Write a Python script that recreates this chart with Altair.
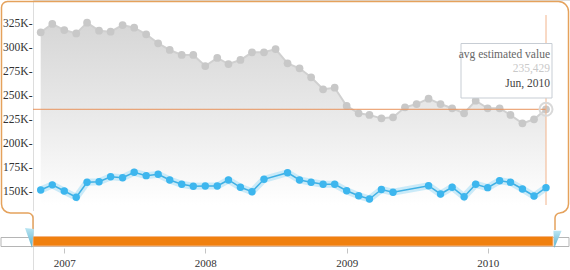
import altair as alt
import pandas as pd

# ---- data (values in thousands of dollars) ----
start_month = "2006-11-01"
n_months = 44
gray_k = [315.6, 324.3, 318.0, 314.4, 325.6, 317.3, 316.3, 323.2, 320.4, 313.5,
          304.2, 297.2, 292.0, 292.0, 280.5, 288.9, 282.6, 286.8, 294.8, 294.8,
          298.2, 283.3, 278.1, 268.8, 256.3, 257.9, 238.9, 231.3, 229.5, 226.0,
          227.1, 237.5, 240.9, 246.5, 240.9, 236.5, 231.3, 244.4, 236.5, 236.5,
          229.5, 220.8, 225.0, 235.429]
blue_k = [151.4, 156.7, 150.3, 143.8, 159.4, 160.0, 165.2, 164.2, 169.8, 166.3,
          167.7, 161.8, 157.3, 155.2, 155.5, 155.5, 161.8, 154.2, 149.6, 162.5,
          None, 169.4, 161.8, 159.4, 157.3, 157.3, 150.6, 145.4, 142.0, 151.9,
          149.0, None, None, 155.8, 147.2, 154.2, 144.4, 157.3, 153.8, 161.0,
          159.4, 152.4, 145.1, 153.8]
y_ticks = [150, 175, 200, 225, 250, 275, 300, 325]
year_ticks = [2007, 2008, 2009, 2010]
tip_label = "avg estimated value"
tip_date = "Jun, 2010"

months = pd.date_range(start_month, periods=n_months, freq="MS")
month_str = [d.strftime("%Y-%m-%dT00:00:00") for d in months]
gray_df = pd.DataFrame({"date": month_str, "v": gray_k})
blue_df = pd.DataFrame({"date": month_str, "v": blue_k}).dropna()
last_df = gray_df.tail(1)
one = pd.DataFrame({"a": [0]})

SERIF = "Liberation Serif"
ORANGE_FRAME = "#e5a25c"
Y_MIN, Y_MAX = 135.73, 340.94
X_LO, X_HI = pd.Timestamp("2006-11-01"), pd.Timestamp("2010-06-01")
R_LO, R_HI = 7.7, 513.0

# cursor guide lines (from the last data point to the axis / across the plot)
axis_left_date = X_LO - (X_HI - X_LO) * (R_LO / (R_HI - R_LO))
last_date = month_str[-1]
hguide = pd.DataFrame({"date": [axis_left_date.strftime("%Y-%m-%dT%H:%M:%S"), last_date],
                       "v": [gray_k[-1], gray_k[-1]]})
vguide = pd.DataFrame({"date": [last_date, last_date], "v": [333.6, Y_MIN]})

xscale = alt.Scale(domain=[alt.DateTime(year=2006, month=11, date=1),
                           alt.DateTime(year=2010, month=6, date=1)],
                   range=[R_LO, R_HI])
yscale = alt.Scale(domain=[Y_MIN, Y_MAX], range=[205, 8], nice=False, zero=False)

X = alt.X("date:T", scale=xscale,
          axis=alt.Axis(values=[alt.DateTime(year=y, month=1, date=1) for y in year_ticks],
                        format="%Y", title=None, domain=False, grid=False, zindex=2,
                        offset=-22, tickSize=5, tickColor="#c4c4c4", labelOverlap=False,
                        labelPadding=4, labelFont=SERIF, labelFontSize=11,
                        labelColor="#333333"))
Y = alt.Y("v:Q", scale=yscale,
          axis=alt.Axis(values=y_ticks, labelExpr="datum.value + 'K-'", title=None,
                        domain=False, grid=False, ticks=False, labelPadding=1, zindex=2,
                        labelOverlap=False, labelFont=SERIF, labelFontSize=11.5,
                        labelColor="#333333"))

# ---- frame decoration ----
frame = alt.Chart(one).mark_rect(
    fillOpacity=0, stroke=ORANGE_FRAME, strokeWidth=1.5,
    cornerRadiusTopLeft=6, cornerRadiusTopRight=10,
    cornerRadiusBottomLeft=9, cornerRadiusBottomRight=9
).encode(x=alt.value(-31.5), x2=alt.value(535.5), y=alt.value(1.5), y2=alt.value(213))
cover = alt.Chart(one).mark_rect(color="white").encode(
    x=alt.value(-5), x2=alt.value(527), y=alt.value(211), y2=alt.value(215.5))
arc_l = alt.Chart(one).mark_arc(theta=0, theta2=1.5708, innerRadius=4.25, outerRadius=5.75,
                                color=ORANGE_FRAME).encode(x=alt.value(-5), y=alt.value(218))
arc_r = alt.Chart(one).mark_arc(theta=4.7124, theta2=6.2832, innerRadius=4.25, outerRadius=5.75,
                                color=ORANGE_FRAME).encode(x=alt.value(527), y=alt.value(218))
desc_l = alt.Chart(one).mark_rect(color=ORANGE_FRAME).encode(
    x=alt.value(-0.75), x2=alt.value(0.75), y=alt.value(218), y2=alt.value(230))
desc_r = alt.Chart(one).mark_rect(color=ORANGE_FRAME).encode(
    x=alt.value(521.25), x2=alt.value(522.75), y=alt.value(218), y2=alt.value(230))

# ---- gray series ----
area = alt.Chart(gray_df).mark_area(
    color=alt.Gradient(gradient="linear", x1=0, x2=0, y1=0, y2=1,
                       stops=[alt.GradientStop(color="#d6d6d6", offset=0),
                              alt.GradientStop(color="#e9e9e9", offset=0.5),
                              alt.GradientStop(color="#ffffff", offset=1)])
).encode(x=X, y=Y, y2=alt.datum(Y_MIN))
gline = alt.Chart(gray_df).mark_line(color="#d0d0d0", strokeWidth=2).encode(x=X, y=Y)
gpts = alt.Chart(gray_df).mark_circle(color="#c8c8c8", opacity=1, size=60).encode(x=X, y=Y)

hrule = alt.Chart(hguide).mark_line(color="#e9935c", strokeWidth=1).encode(x=X, y=Y)
vrule = alt.Chart(vguide).mark_line(color="#f2b48c", strokeWidth=1).encode(x=X, y=Y)

# ---- blue series ----
halo = alt.Chart(blue_df).mark_line(color="#c4e8f7", strokeWidth=7, opacity=0.9).encode(x=X, y=Y)
bline = alt.Chart(blue_df).mark_line(color="#3fb0e4", strokeWidth=1.5).encode(x=X, y=Y)
bpts = alt.Chart(blue_df).mark_circle(color="#3db6ee", opacity=1, size=55).encode(x=X, y=Y)

ring = alt.Chart(last_df).mark_point(size=170, filled=False, stroke="#d9d9d9",
                                     strokeWidth=2, opacity=1).encode(x=X, y=Y)

# ---- tooltip ----
tipbox = alt.Chart(one).mark_rect(fill="white", stroke="#c7cdd4", strokeWidth=1).encode(
    x=alt.value(428), x2=alt.value(519), y=alt.value(43.5), y2=alt.value(98))
t1 = alt.Chart(one).mark_text(align="right", font=SERIF, fontSize=11.5, color="#666666").encode(
    x=alt.value(517), y=alt.value(55), text=alt.value(tip_label))
t2 = alt.Chart(one).mark_text(align="right", font=SERIF, fontSize=11.5, color="#c9c9c9").encode(
    x=alt.value(517), y=alt.value(69), text=alt.value(f"{round(gray_k[-1] * 1000):,}"))
t3 = alt.Chart(one).mark_text(align="right", font=SERIF, fontSize=11.5, color="#444444").encode(
    x=alt.value(517), y=alt.value(84), text=alt.value(tip_date))

# ---- slider ----
track = alt.Chart(one).mark_rect(fill="white", stroke="#b5b5b5", strokeWidth=1).encode(
    x=alt.value(-32), x2=alt.value(536), y=alt.value(237.5), y2=alt.value(246.5))
bar = alt.Chart(one).mark_rect(fill="#f0800f", stroke="#f4b684", strokeWidth=1).encode(
    x=alt.value(0), x2=alt.value(520), y=alt.value(236.5), y2=alt.value(246))
handle_fill = alt.Gradient(gradient="linear", x1=0, x2=0, y1=0, y2=1,
                           stops=[alt.GradientStop(color="#b9e5f3", offset=0),
                                  alt.GradientStop(color="#5aafcb", offset=1)])
h_l = alt.Chart(one).mark_point(shape="M -0.45 -1 L 0.45 -0.9 L 0.25 1 Z", size=400,
                                filled=True, fill=handle_fill, opacity=1).encode(
    x=alt.value(-3.5), y=alt.value(238))
h_r = alt.Chart(one).mark_point(shape="M -0.45 -0.9 L 0.45 -0.9 L -0.35 1 Z", size=330,
                                filled=True, fill=handle_fill, opacity=1).encode(
    x=alt.value(524.5), y=alt.value(239))

chart = alt.layer(
    frame, cover, arc_l, arc_r, desc_l, desc_r,
    area, gline, gpts, hrule, vrule, halo, bline, bpts, ring,
    tipbox, t1, t2, t3, track, bar, h_l, h_r
).properties(
    width=537, height=270, autosize="none",
    padding={"left": 33, "top": 0, "right": 0, "bottom": 0}
).configure_view(strokeWidth=0, strokeOpacity=0
).configure_axis(domain=False, grid=False
).configure(background="white")

chart.save("out.html", embed_options={"renderer": "svg", "actions": False})
